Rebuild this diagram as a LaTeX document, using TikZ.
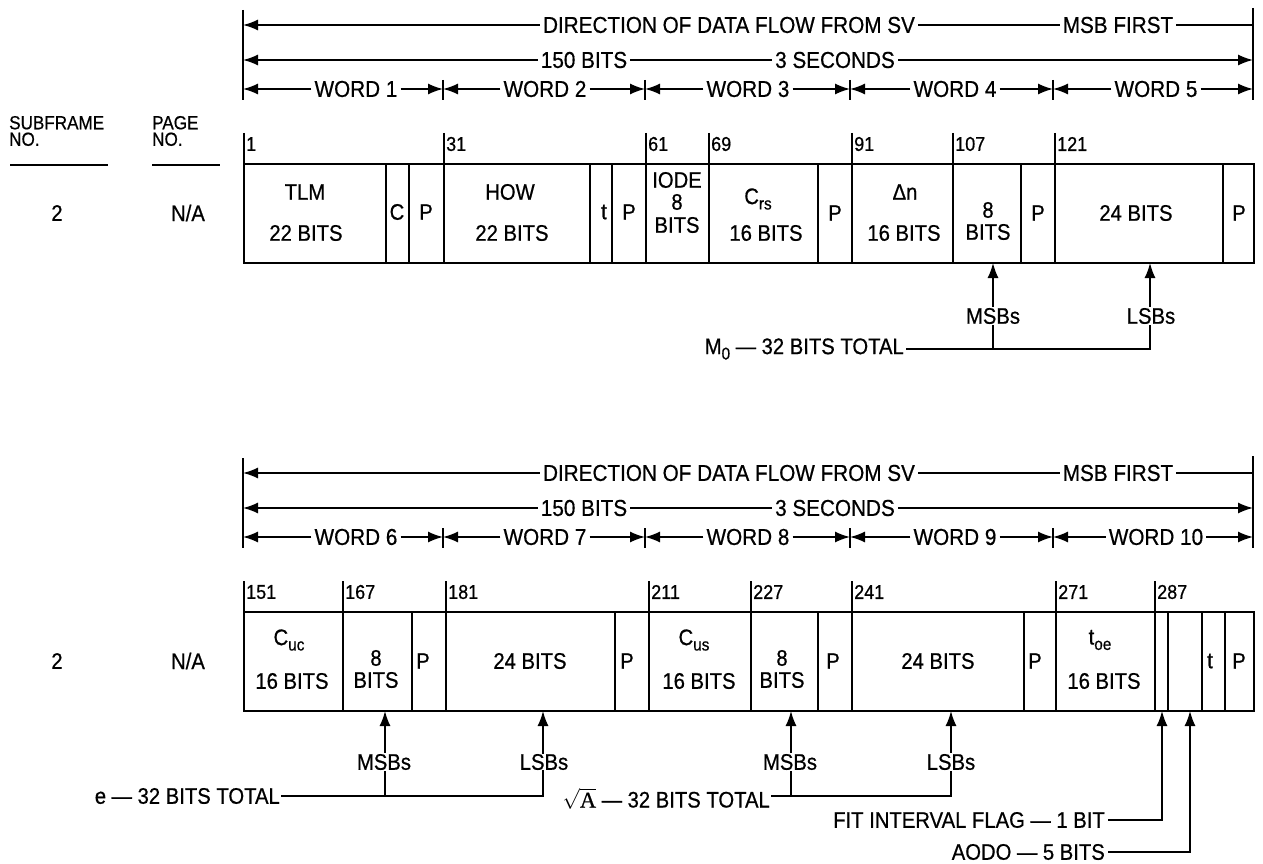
\documentclass[tikz,border=0pt]{standalone}
\usepackage{fontspec}
\setmainfont{Liberation Sans}[FakeStretch=0.9,FakeBold=0.6]
\newfontfamily\serifA{Liberation Serif}[FakeBold=0.6]
\usetikzlibrary{arrows.meta}
\newcommand\hdfont{\fontsize{23}{26}\selectfont}
\newcommand\bxfont{\fontsize{22.5}{25}\selectfont}
\newcommand\tkfont{\fontsize{20}{22}\selectfont}
\newcommand\lowsub[1]{\raisebox{-0.45ex}{\fontsize{17}{17}\selectfont #1}}
\tikzset{
  ln/.style={line width=1.5pt},
  arr/.style={ln,-{Latex[length=15pt,width=11pt]}},
  hd/.style={font=\hdfont, inner sep=3pt},
  bx/.style={font=\bxfont, inner sep=0pt},
  lb/.style={font=\bxfont, inner sep=2pt},
  tk/.style={font=\tkfont, inner sep=1pt, anchor=west},
  hl/.style={font=\fontsize{19}{16.5}\selectfont, align=left, anchor=west, inner sep=0pt},
}
% header rows of one frame: #1 prefix, #2 vertical offset, #3..#7 word labels
\newcommand\framehead[7]{%
\begin{scope}[yshift=-#2pt]
  \coordinate (#1lt) at (243,10); \coordinate (#1lb) at (243,100);
  \coordinate (#1rt) at (1253,8); \coordinate (#1rb) at (1253,100);
  \draw[ln] (#1lt) -- (#1lb);
  \draw[ln] (#1rt) -- (#1rb);
  % row 1
  \node[hd] (#1dir) at (729,25) {DIRECTION OF DATA FLOW FROM SV};
  \node[hd] (#1msb) at (1118,25) {MSB FIRST};
  \coordinate (#1ra) at (243,25); \coordinate (#1rb1) at (1253,25);
  \draw[arr] (#1dir.west) -- (#1ra);
  \draw[ln] (#1dir.east) -- (#1msb.west);
  \draw[ln] (#1msb.east) -- (#1rb1);
  % row 2
  \node[hd] (#1bits) at (584,60) {150 BITS};
  \node[hd] (#1sec) at (835,60) {3 SECONDS};
  \coordinate (#1rc) at (243,60); \coordinate (#1rd) at (1253,60);
  \draw[arr] (#1bits.west) -- (#1rc);
  \draw[ln] (#1bits.east) -- (#1sec.west);
  \draw[arr] (#1sec.east) -- (#1rd);
  % row 3
  \coordinate (#1t0) at (243,89);
  \coordinate (#1t1) at (443,89);
  \coordinate (#1t2) at (645,89);
  \coordinate (#1t3) at (850,89);
  \coordinate (#1t4) at (1053,89);
  \coordinate (#1t5) at (1253,89);
  \foreach \x in {443,645,850,1053} \draw[ln] (\x,80) -- (\x,100);
  \node[hd] (#1w1) at (356,89) {#3};
  \node[hd] (#1w2) at (545,89) {#4};
  \node[hd] (#1w3) at (748,89) {#5};
  \node[hd] (#1w4) at (955,89) {#6};
  \node[hd] (#1w5) at (1156,89) {#7};
  \draw[arr] (#1w1.west) -- (#1t0); \draw[arr] (#1w1.east) -- (#1t1);
  \draw[arr] (#1w2.west) -- (#1t1); \draw[arr] (#1w2.east) -- (#1t2);
  \draw[arr] (#1w3.west) -- (#1t2); \draw[arr] (#1w3.east) -- (#1t3);
  \draw[arr] (#1w4.west) -- (#1t3); \draw[arr] (#1w4.east) -- (#1t4);
  \draw[arr] (#1w5.west) -- (#1t4); \draw[arr] (#1w5.east) -- (#1t5);
\end{scope}}
\begin{document}
\begin{tikzpicture}[x=1pt,y=-1pt]
\useasboundingbox[fill=white] (0,0) rectangle (1263,864);

\framehead{A}{0}{WORD 1}{WORD 2}{WORD 3}{WORD 4}{WORD 5}
\framehead{B}{448}{WORD 6}{WORD 7}{WORD 8}{WORD 9}{WORD 10}

% column headings
\node[hl] (sfh) at (9,131) {SUBFRAME\\NO.};
\node[hl] (pgh) at (152,131) {PAGE\\NO.};
\draw[ln] (10,165) -- (108,165);
\draw[ln] (152,165) -- (220,165);
\node[bx] (sfA) at (57,213) {2};
\node[bx] (pgA) at (188,213) {N/A};
\node[bx] (sfB) at (57,661) {2};
\node[bx] (pgB) at (188,661) {N/A};

% ===== top subframe box =====
\draw[ln] (244,164) rectangle (1254,263);
\foreach \x in {386,409,444,590,612,646,709,818,852,953,1021,1055,1223}
  \draw[ln] (\x,164) -- (\x,263);
\foreach \x/\t in {244/1,444/31,646/61,709/69,852/91,953/107,1055/121}{
  \draw[ln] (\x,133) -- (\x,164);
  \node[tk] (tkA\t) at (\x+1,144) {\t};}
\node[bx] (tlm) at (305,192) {TLM};
\node[bx] (tlmb) at (306,233) {22 BITS};
\node[bx] (cA) at (397,212) {C};
\node[bx] (pA1) at (426,212) {P};
\node[bx] (how) at (510,192) {HOW};
\node[bx] (howb) at (512,233) {22 BITS};
\node[bx] (tA) at (604,212) {t};
\node[bx] (pA2) at (629,212) {P};
\node[bx] (iode1) at (677,180) {IODE};
\node[bx] (iode2) at (677,202) {8};
\node[bx] (iode3) at (677,225) {BITS};
\node[bx] (crs) at (758,199) {C\lowsub{rs}};
\node[bx] (crsb) at (766,233) {16 BITS};
\node[bx] (pA3) at (835,213) {P};
\node[bx] (dn) at (905,192) {Δn};
\node[bx] (dnb) at (904,233) {16 BITS};
\node[bx] (m8a) at (988,210) {8};
\node[bx] (m8b) at (988,232) {BITS};
\node[bx] (pA4) at (1038,213) {P};
\node[bx] (m24) at (1136,213) {24 BITS};
\node[bx] (pA5) at (1239,213) {P};

% M0 connectors
\coordinate (Amt) at (993,263);
\coordinate (Alt) at (1150,263);
\coordinate (Amj) at (993,349);
\node[lb, anchor=east] (m0) at (906,349) {M\lowsub{0} — 32 BITS TOTAL};
\draw[arr] (m0.east) -| (Alt);
\draw[arr] (Amj) -- (Amt);
\node[lb, fill=white, inner sep=1pt] (Amsb) at (993,316) {MSBs};
\node[lb, fill=white, inner sep=1pt] (Alsb) at (1151,316) {LSBs};

% ===== bottom subframe box =====
\draw[ln] (244,612) rectangle (1254,711);
\foreach \x in {343,412,446,615,649,751,818,852,1024,1056,1155,1168,1202,1225}
  \draw[ln] (\x,612) -- (\x,711);
\foreach \x/\t in {244/151,343/167,446/181,649/211,751/227,852/241,1056/271,1155/287}{
  \draw[ln] (\x,581) -- (\x,612);
  \node[tk] (tkB\t) at (\x+1,592) {\t};}
\node[bx] (cuc) at (289,640) {C\lowsub{uc}};
\node[bx] (cucb) at (292,681) {16 BITS};
\node[bx] (e8a) at (376,658) {8};
\node[bx] (e8b) at (376,680) {BITS};
\node[bx, anchor=west] (pB1) at (416,661) {P};
\node[bx] (e24) at (530,661) {24 BITS};
\node[bx, anchor=west] (pB2) at (620,661) {P};
\node[bx] (cus) at (694,640) {C\lowsub{us}};
\node[bx] (cusb) at (699,681) {16 BITS};
\node[bx] (a8a) at (782,658) {8};
\node[bx] (a8b) at (782,680) {BITS};
\node[bx] (pB3) at (833,661) {P};
\node[bx] (a24) at (938,661) {24 BITS};
\node[bx, anchor=west] (pB4) at (1028,661) {P};
\node[bx] (toe) at (1100,640) {t\lowsub{oe}};
\node[bx] (toeb) at (1104,681) {16 BITS};
\node[bx] (tB) at (1210,661) {t};
\node[bx] (pB5) at (1239,661) {P};

% e connectors
\coordinate (Bmt1) at (385,711);
\coordinate (Blt1) at (543,711);
\coordinate (Bmj1) at (385,796);
\node[lb, anchor=east, inner sep=1pt] (elab) at (281,796) {e — 32 BITS TOTAL};
\draw[arr] (elab.east) -| (Blt1);
\draw[arr] (Bmj1) -- (Bmt1);
\node[lb, fill=white, inner sep=1pt] (Bmsb1) at (384,762) {MSBs};
\node[lb, fill=white, inner sep=0pt] (Blsb1) at (544,762) {LSBs};

% sqrt A connectors
\coordinate (Bmt2) at (791,711);
\coordinate (Blt2) at (951,711);
\coordinate (Bmj2) at (791,796);
\node[lb, anchor=east, inner sep=1pt] (alab) at (771,799) {$\sqrt{\hbox{\serifA A}}$ — 32 BITS TOTAL};
\draw[arr] (alab.east |- Bmj2) -| (Blt2);
\draw[arr] (Bmj2) -- (Bmt2);
\node[lb, fill=white, inner sep=1pt] (Bmsb2) at (790,762) {MSBs};
\node[lb, fill=white, inner sep=1pt] (Blsb2) at (951,762) {LSBs};

% fit interval and AODO
\coordinate (fitt) at (1162,711);
\coordinate (aodot) at (1190,711);
\node[lb, anchor=east, inner sep=3pt] (fit) at (1108,820) {FIT INTERVAL FLAG — 1 BIT};
\node[lb, anchor=east, inner sep=3pt] (aodo) at (1108,852) {AODO — 5 BITS};
\draw[arr] (fit.east) -| (fitt);
\draw[arr] (aodo.east) -| (aodot);
\end{tikzpicture}
\end{document}
